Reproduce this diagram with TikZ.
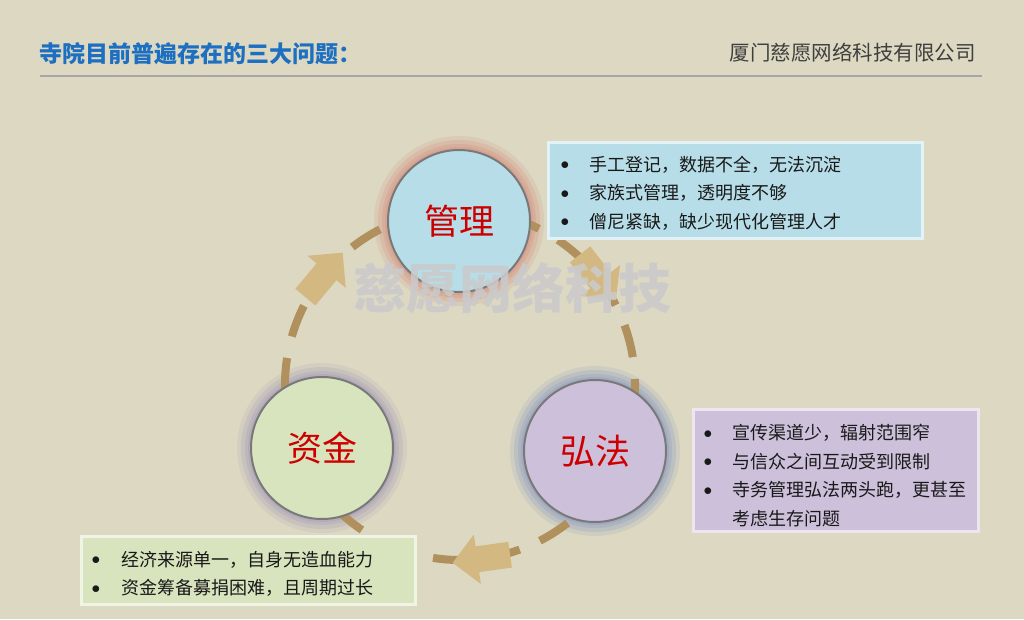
\documentclass[tikz,border=0pt]{standalone}
\usepackage{fontspec}
\setmainfont{Noto Sans CJK SC}
\definecolor{bg}{HTML}{DCD8C2}
\definecolor{titleblue}{HTML}{1C6FC1}
\definecolor{corpgray}{HTML}{3F3F3F}
\definecolor{rulegray}{HTML}{A6A6A6}
\definecolor{dashbrown}{HTML}{B0905C}
\definecolor{arrowtan}{HTML}{D3B981}
\definecolor{circred}{HTML}{CC0000}
\definecolor{fillA}{HTML}{B7DEE8}
\definecolor{fillB}{HTML}{CCC0DA}
\definecolor{fillC}{HTML}{D7E4BD}
\definecolor{haloA}{HTML}{D49A88}
\definecolor{haloB}{HTML}{98A2C0}
\definecolor{haloC}{HTML}{A8A0B8}
\definecolor{marktext}{HTML}{CACACC}
\tikzset{
  circnode/.style={circle, minimum size=142pt, inner sep=0pt, draw=gray!95!black, line width=2pt,
    text=circred, font=\fontsize{35}{35}\selectfont},
  listbox/.style={rectangle, anchor=north west, align=left, line width=3pt,
    font=\fontsize{18}{28.5}\selectfont, text=black!90, inner ysep=0pt},
  dashring/.style={draw=dashbrown, line width=8pt, dash pattern=on 33pt off 22pt},
  blockarrow/.pic={\fill[arrowtan] (29,0) -- (4,25) -- (4,13) -- (-29,13) -- (-29,-13) -- (4,-13) -- (4,-25) -- cycle;}
}
\newcommand{\bul}[1]{\makebox[#1][l]{\raisebox{1.5pt}{$\bullet$}}}
\begin{document}
\begin{tikzpicture}[x=1pt,y=1pt]
\fill[bg] (0,0) rectangle (1024,-619);
\useasboundingbox (0,0) rectangle (1024,-619);
% header
\node[anchor=west, text=titleblue, font=\fontsize{23}{23}\selectfont\bfseries, inner sep=0pt] (title) at (39,-54) {寺院目前普遍存在的三大问题：};
\node[anchor=east, text=corpgray, font=\fontsize{20.5}{20.5}\selectfont, inner sep=0pt] (corp) at (976,-53) {厦门慈愿网络科技有限公司};
\coordinate (ruleL) at (40,-76);
\coordinate (ruleR) at (982,-76);
\draw[rulegray, line width=2pt] (ruleL) -- (ruleR);
% halos
\foreach \r/\o in {85/0.2, 81/0.3, 77/0.4, 74/0.5}{
  \fill[haloA, opacity=\o] (459,-221) circle (\r);
  \fill[haloC, opacity=\o*0.85] (322,-448) circle (\r);
  \fill[haloB, opacity=\o] (595,-451) circle (\r);
}
% dashed ring
\coordinate (ringc) at (460,-385);
\draw[dashring] (ringc) ++(128:175) arc[start angle=128, end angle=-232, radius=175];
% block arrows
\path (ringc) ++(141:175) pic[rotate=50]{blockarrow};
\path (ringc) ++(38:175) pic[rotate=-52]{blockarrow};
\path (ringc) ++(-83:175) pic[rotate=-172]{blockarrow};
% circles
\node[circnode, fill=fillA] (mgmt) at (459,-221) {管理};
\node[circnode, fill=fillC] (fund) at (322,-448) {资金};
\node[circnode, fill=fillB] (dharma) at (595,-451) {弘法};
% watermark
\node[text=marktext, opacity=0.88, font=\fontsize{53}{53}\selectfont\bfseries, inner sep=0pt] (mark) at (512,-288) {慈愿网络科技};
% lists
\node[listbox, fill=fillA, draw=fillA!40!white, minimum width=374pt, minimum height=96pt, inner xsep=12pt, text width=350pt] (mgmtlist) at (547,-141)
  {\rule{0pt}{20pt}\bul{29pt}手工登记，数据不全，无法沉淀\\ \bul{29pt}家族式管理，透明度不够\\ \bul{29pt}僧尼紧缺，缺少现代化管理人才};
\node[listbox, fill=fillB, draw=fillB!40!white, minimum width=285pt, minimum height=122pt, inner xsep=10pt, text width=265pt] (dharmalist) at (692,-408)
  {\rule{0pt}{25pt}\bul{29pt}宣传渠道少，辐射范围窄\\ \bul{29pt}与信众之间互动受到限制\\ \bul{29pt}寺务管理弘法两头跑，更甚至\\ \hspace*{29pt}考虑生存问题};
\node[listbox, fill=fillC, draw=fillC!40!white, minimum width=334pt, minimum height=68pt, inner xsep=10pt, text width=314pt] (fundlist) at (80,-535)
  {\rule{0pt}{22pt}\bul{30pt}经济来源单一，自身无造血能力\\ \bul{30pt}资金筹备募捐困难，且周期过长};
\end{tikzpicture}
\end{document}
